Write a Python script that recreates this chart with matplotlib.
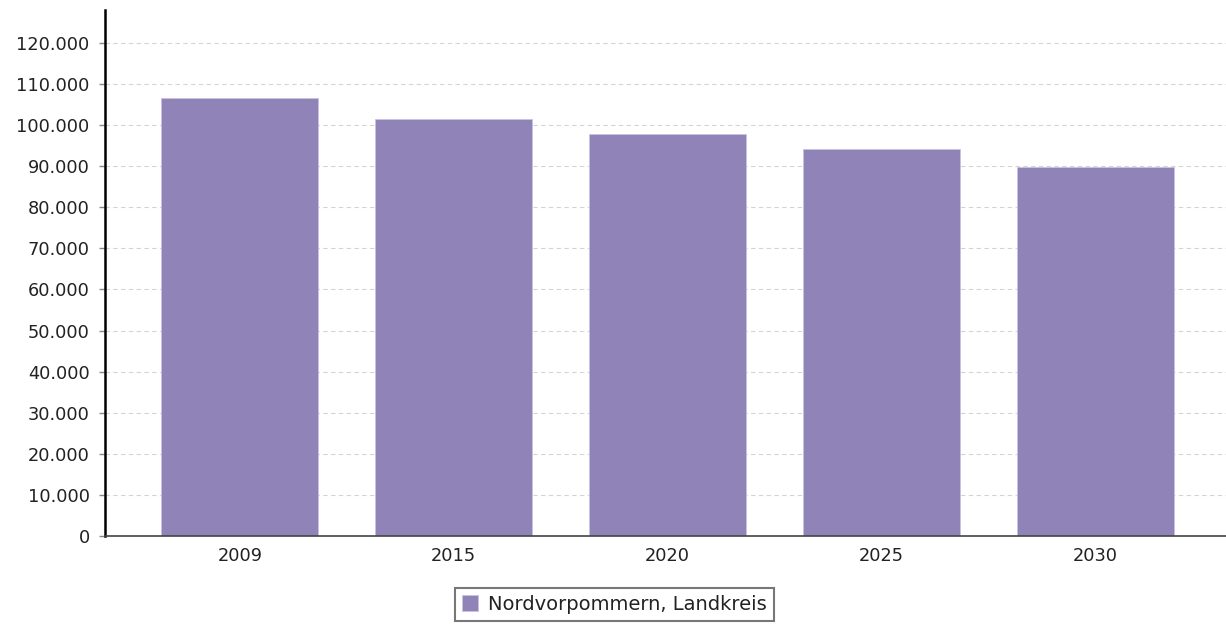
import matplotlib
matplotlib.use("Agg")
import matplotlib.pyplot as plt
from matplotlib.ticker import FuncFormatter, MultipleLocator

years = ["2009", "2015", "2020", "2025", "2030"]
values = [106600, 101500, 97900, 94100, 89700]
series_name = "Nordvorpommern, Landkreis"
bar_color = "#8f83b8"

fig = plt.figure(figsize=(12.26, 6.26), dpi=100)
ax = fig.add_axes([105/1226, 1 - 536/626, 1 - 105/1226, (536 - 10)/626])

x = list(range(len(years)))
bars = ax.bar(x, values, width=0.735, color=bar_color, label=series_name, zorder=2,
              edgecolor="#c9c2e0", linewidth=0.6)

ax.set_xlim(-0.63, 4.61)
ax.set_ylim(0, 128000)
ax.yaxis.set_major_locator(MultipleLocator(10000))
ax.yaxis.set_major_formatter(FuncFormatter(lambda v, p: f"{int(v):,}".replace(",", ".")))
ax.set_xticks(x)
ax.set_xticklabels(years)

ax.grid(axis="y", color="#d4d4d4", linestyle=(0, (4, 3)), linewidth=0.8, zorder=0)
for s in ["top", "right"]:
    ax.spines[s].set_visible(False)
ax.spines["left"].set_linewidth(1.8)
ax.spines["left"].set_color("black")
ax.spines["bottom"].set_linewidth(1.2)
ax.spines["bottom"].set_color("#444444")
ax.spines["bottom"].set_linestyle((0, (3, 1)))

ax.tick_params(axis="y", length=4, width=1, color="#888888", labelsize=12.8, pad=7)
ax.tick_params(axis="x", length=0, labelsize=12.8, pad=8)
for lbl in ax.get_yticklabels() + ax.get_xticklabels():
    lbl.set_color("#222222")

leg = fig.legend(handles=[bars], labels=[series_name], loc="upper left",
                 bbox_to_anchor=(455/1226, 1 - 588/626), frameon=True, fancybox=False,
                 fontsize=14, handlelength=0.85, handleheight=0.85, handletextpad=0.5,
                 borderpad=0.35, borderaxespad=0)
leg.get_frame().set_edgecolor("#555555")
leg.get_frame().set_linewidth(1.5)
for t in leg.get_texts():
    t.set_color("#222222")

fig.savefig("out.png", dpi=100)
